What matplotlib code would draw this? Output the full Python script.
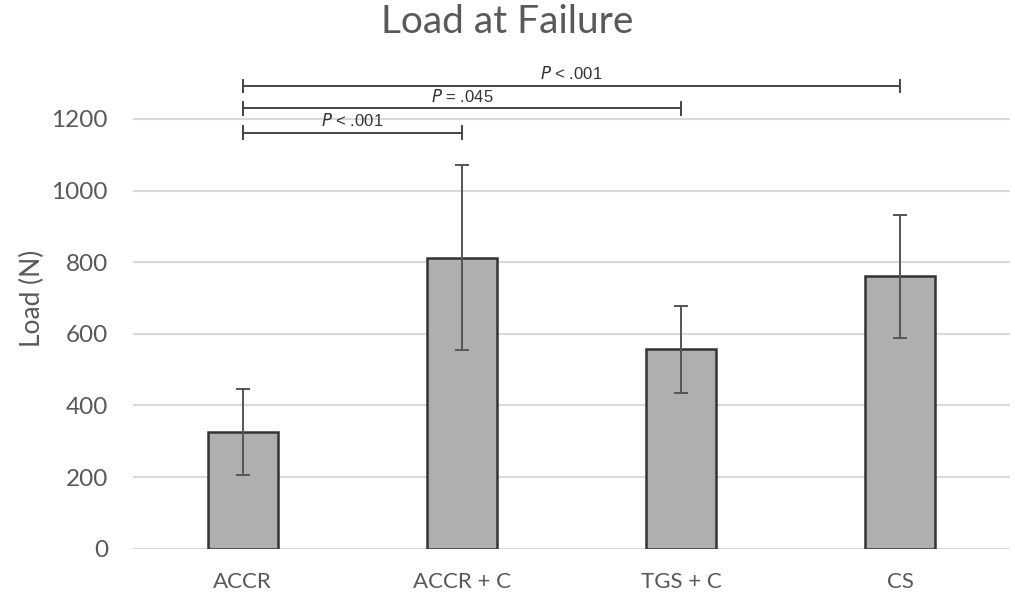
# load_at_failure.py
# Bar chart of load at failure with SD error bars and significance brackets

import matplotlib
matplotlib.use("Agg")
import matplotlib.pyplot as plt

GROUPS = ["ACCR", "ACCR + C", "TGS + C", "CS"]
MEAN_LOAD = [327, 812, 557, 760]
SD_LOAD = [120, 258, 121, 173]

# significance brackets: (from group index, to group index, height in N, label)
SIG_FROM = [0, 0, 0]
SIG_TO = [1, 2, 3]
SIG_Y = [1161, 1230, 1292]
SIG_P = ["< .001", "= .045", "< .001"]

TEXT_GREY = "#595959"


def draw_brackets(ax):
    for i0, i1, y, p in zip(SIG_FROM, SIG_TO, SIG_Y, SIG_P):
        ax.plot([i0, i1], [y, y], color="#444444", lw=1.4, clip_on=False)
        for xe in (i0, i1):
            ax.plot([xe, xe], [y - 18, y + 18], color="#444444", lw=1.4,
                    clip_on=False)
        ax.text((i0 + i1) / 2, y + 10, f"$\\it{{P}}$ {p}",
                ha="center", va="bottom", fontsize=12,
                family="Liberation Sans", color="#333333")


def main():
    fig = plt.figure(figsize=(10.15, 5.98), dpi=100)
    ax = fig.add_axes([133 / 1015, 1 - 548.7 / 598, 877 / 1015, 500 / 598])

    x = list(range(len(GROUPS)))
    ax.bar(x, MEAN_LOAD, width=0.32, color="#afafaf", edgecolor="#333333",
           linewidth=1.8, zorder=3)
    ax.errorbar(x, MEAN_LOAD, yerr=SD_LOAD, fmt="none", ecolor="#555555",
                elinewidth=1.4, capsize=5, capthick=1.4, zorder=4)

    ax.set_xlim(-0.5, 3.5)
    ax.set_ylim(0, 1396)
    ax.set_yticks([0, 200, 400, 600, 800, 1000, 1200])
    ax.set_xticks(x)
    ax.set_xticklabels(GROUPS)
    ax.yaxis.grid(True, color="#d9d9d9", lw=1.5, zorder=0)
    ax.set_axisbelow(True)
    for s in ax.spines.values():
        s.set_visible(False)
    ax.tick_params(axis="y", length=0, labelsize=17.5, labelcolor=TEXT_GREY,
                   pad=18)
    ax.tick_params(axis="x", length=0, labelsize=16, labelcolor=TEXT_GREY,
                   pad=17)
    for lab in ax.get_xticklabels() + ax.get_yticklabels():
        lab.set_family("Lato")
    ax.set_ylabel("Load (N)", fontsize=19, color=TEXT_GREY, family="Lato",
                  labelpad=5)

    draw_brackets(ax)

    fig.text(507 / 1015, 1 - 22 / 598, "Load at Failure", ha="center",
             va="center", fontsize=28, color=TEXT_GREY, family="Lato")

    fig.savefig("out.png", dpi=100)


if __name__ == "__main__":
    main()
